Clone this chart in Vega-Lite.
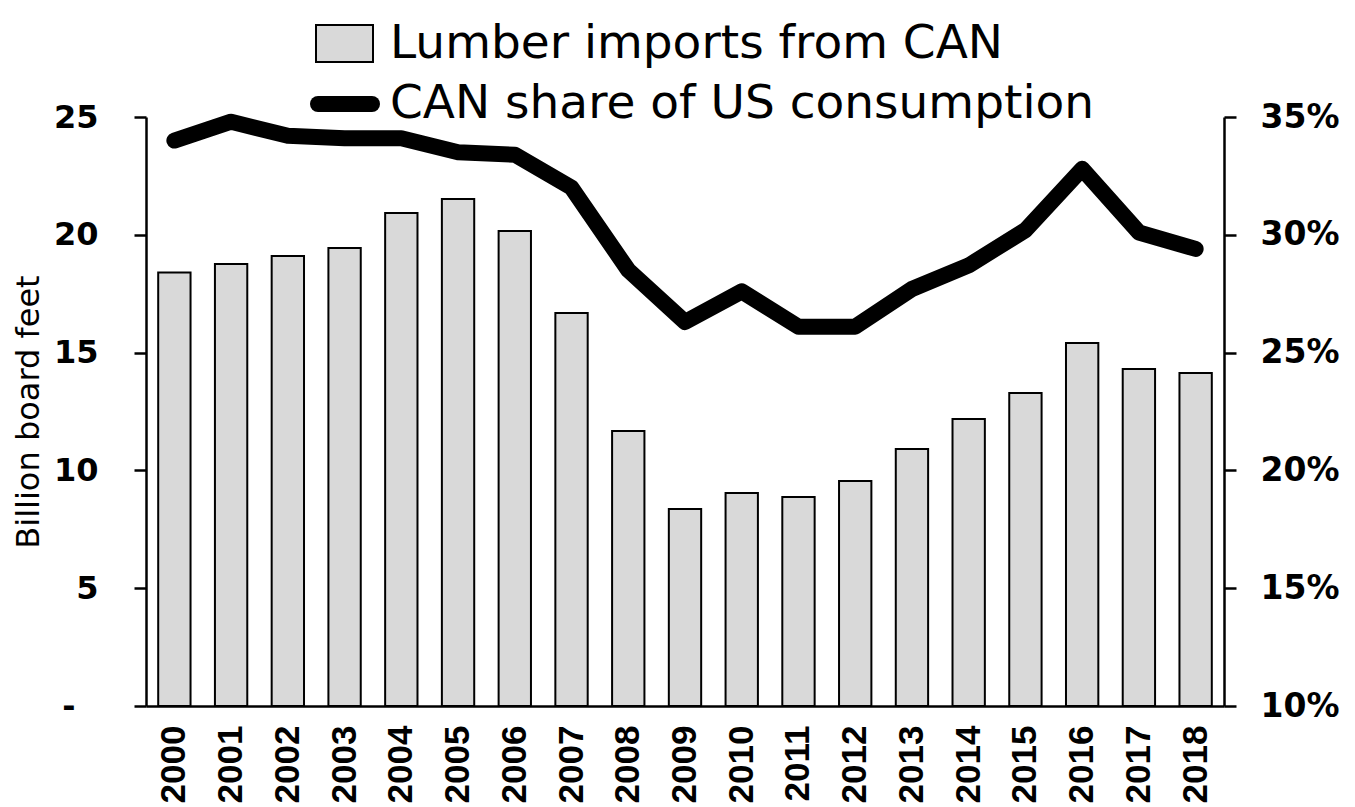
{
  "$schema": "https://vega.github.io/schema/vega-lite/v6.json",
  "width": 1078,
  "height": 589,
  "autosize": {"type": "none"},
  "padding": {"left": 146, "top": 117, "right": 131, "bottom": 101},
  "background": "white",
  "config": {"view": {"stroke": null}},
  "data": {"values": [
    {"year": "2000", "imports": 18.4, "share": 0.340},
    {"year": "2001", "imports": 18.76, "share": 0.348},
    {"year": "2002", "imports": 19.1, "share": 0.342},
    {"year": "2003", "imports": 19.44, "share": 0.341},
    {"year": "2004", "imports": 20.93, "share": 0.341},
    {"year": "2005", "imports": 21.52, "share": 0.335},
    {"year": "2006", "imports": 20.16, "share": 0.334},
    {"year": "2007", "imports": 16.68, "share": 0.320},
    {"year": "2008", "imports": 11.67, "share": 0.285},
    {"year": "2009", "imports": 8.36, "share": 0.263},
    {"year": "2010", "imports": 9.04, "share": 0.276},
    {"year": "2011", "imports": 8.87, "share": 0.261},
    {"year": "2012", "imports": 9.55, "share": 0.261},
    {"year": "2013", "imports": 10.91, "share": 0.277},
    {"year": "2014", "imports": 12.18, "share": 0.287},
    {"year": "2015", "imports": 13.28, "share": 0.302},
    {"year": "2016", "imports": 15.41, "share": 0.328},
    {"year": "2017", "imports": 14.30, "share": 0.301},
    {"year": "2018", "imports": 14.13, "share": 0.294}
  ]},
  "encoding": {
    "x": {
      "field": "year", "type": "ordinal",
      "scale": {"paddingInner": 0.43, "paddingOuter": 0.215},
      "axis": {
        "title": null, "labelAngle": -90, "ticks": false,
        "domainColor": "black", "domainWidth": 2.5,
        "labelFont": "Liberation Sans", "labelFontWeight": "bold", "labelFontSize": 35,
        "labelColor": "black", "labelPadding": 19
      }
    }
  },
  "layer": [
    {
      "mark": {"type": "bar", "stroke": "black", "strokeWidth": 2},
      "encoding": {
        "y": {
          "field": "imports", "type": "quantitative",
          "scale": {"domain": [0, 25], "nice": false},
          "axis": {
            "title": "Billion board feet", "values": [0, 5, 10, 15, 20, 25],
            "labelExpr": "datum.value == 0 ? '-' : datum.label",
            "labelPadding": {"condition": {"test": "datum.value == 0", "value": 59}, "value": 36},
            "grid": false, "domainColor": "black", "domainWidth": 2.5,
            "tickColor": "black", "tickWidth": 2.5, "tickSize": 12,
            "labelFont": "DejaVu Sans", "labelFontWeight": "bold", "labelFontSize": 32,
            "labelColor": "black",
            "titleFont": "DejaVu Sans", "titleFontWeight": "normal", "titleFontSize": 32,
            "titleColor": "black", "titlePadding": 8
          }
        },
        "fill": {
          "datum": "Lumber imports from CAN",
          "scale": {"range": ["#d9d9d9"]},
          "legend": {
            "title": null, "orient": "none", "legendX": 169, "legendY": -103,
            "padding": 0,
            "symbolType": "M-1,-0.65H1V0.65H-1Z", "symbolSize": 3249,
            "symbolStrokeColor": "black", "symbolStrokeWidth": 2, "symbolFillColor": "#d9d9d9",
            "labelFont": "DejaVu Sans", "labelFontSize": 47, "labelColor": "black",
            "labelLimit": 2000, "labelOffset": 16
          }
        }
      }
    },
    {
      "mark": {"type": "line", "strokeWidth": 16, "strokeCap": "round", "strokeJoin": "round"},
      "encoding": {
        "y": {
          "field": "share", "type": "quantitative",
          "scale": {"domain": [0.10, 0.35], "nice": false},
          "axis": {
            "orient": "right", "title": null, "format": ".0%",
            "values": [0.10, 0.15, 0.20, 0.25, 0.30, 0.35],
            "grid": false, "domainColor": "black", "domainWidth": 2.5,
            "tickColor": "black", "tickWidth": 2.5, "tickSize": 12,
            "labelFont": "DejaVu Sans", "labelFontWeight": "bold", "labelFontSize": 33,
            "labelColor": "black", "labelPadding": 24
          }
        },
        "stroke": {
          "datum": "CAN share of US consumption",
          "scale": {"range": ["black"]},
          "legend": {
            "title": null, "orient": "none", "legendX": 164, "legendY": -48,
            "padding": 0,
            "symbolType": "stroke", "symbolSize": 2916,
            "symbolStrokeWidth": 16, "symbolStrokeColor": "black",
            "labelFont": "DejaVu Sans", "labelFontSize": 47, "labelColor": "black",
            "labelLimit": 2000, "labelOffset": 10,
            "encode": {"symbols": {"update": {"strokeCap": {"value": "round"}}}}
          }
        }
      }
    }
  ],
  "resolve": {"scale": {"y": "independent", "fill": "independent", "stroke": "independent"}}
}
